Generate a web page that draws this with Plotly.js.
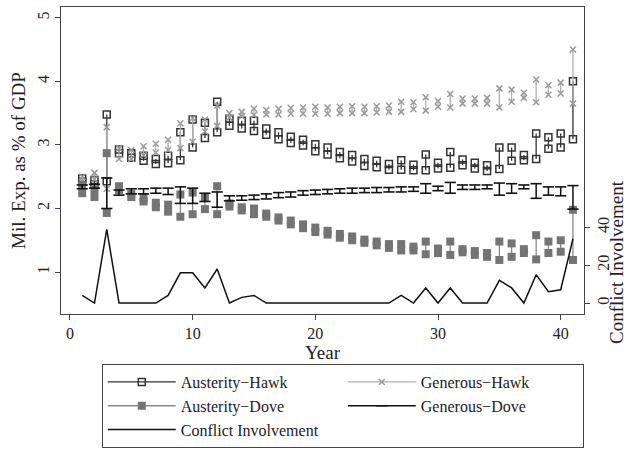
<!DOCTYPE html>
<html>
<head>
<meta charset="utf-8">
<script src="https://cdn.plot.ly/plotly-3.0.1.min.js"></script>
<style>html,body{margin:0;padding:0;background:#fff;}#chart{width:628px;height:450px;}</style>
</head>
<body>
<div id="chart"></div>
<script>
var years = [1,2,3,4,5,6,7,8,9,10,11,12,13,14,15,16,17,18,19,20,21,22,23,24,25,26,27,28,29,30,31,32,33,34,35,36,37,38,39,40,41];

var ahLo = [2.42,2.38,2.43,2.87,2.80,2.75,2.70,2.71,2.76,2.96,3.11,3.20,3.30,3.26,3.22,3.16,3.09,3.03,2.99,2.90,2.85,2.79,2.74,2.67,2.65,2.61,2.61,2.60,2.60,2.63,2.64,2.68,2.63,2.59,2.62,2.75,2.76,2.78,2.94,2.96,3.09];
var ahHi = [2.47,2.45,3.48,2.93,2.87,2.83,2.78,2.83,3.20,3.40,3.35,3.68,3.41,3.38,3.38,3.26,3.20,3.13,3.08,3.01,2.96,2.89,2.84,2.78,2.75,2.70,2.76,2.69,2.85,2.72,2.89,2.77,2.72,2.68,2.96,2.96,2.84,3.18,3.12,3.18,4.00];

var ghLo = [2.42,2.46,2.31,2.78,2.78,2.84,2.88,2.92,2.95,3.05,3.21,3.30,3.43,3.45,3.47,3.48,3.48,3.49,3.49,3.49,3.49,3.50,3.50,3.50,3.51,3.52,3.52,3.56,3.54,3.60,3.59,3.65,3.65,3.65,3.59,3.68,3.74,3.67,3.79,3.81,3.65];
var ghHi = [2.50,2.56,3.28,2.95,2.92,2.98,3.02,3.08,3.34,3.42,3.40,3.62,3.50,3.52,3.57,3.55,3.57,3.58,3.59,3.60,3.59,3.60,3.61,3.60,3.61,3.62,3.68,3.67,3.75,3.69,3.80,3.73,3.73,3.74,3.89,3.87,3.82,4.03,3.94,3.98,4.50];

var adLo = [2.24,2.18,1.93,2.29,2.18,2.11,2.02,1.95,1.87,1.91,1.99,1.91,2.03,1.97,1.91,1.87,1.81,1.75,1.69,1.63,1.59,1.54,1.50,1.46,1.42,1.38,1.34,1.34,1.28,1.30,1.27,1.31,1.27,1.24,1.19,1.24,1.30,1.20,1.30,1.32,1.19];
var adHi = [2.37,2.30,2.87,2.35,2.23,2.17,2.09,2.06,2.22,2.25,2.18,2.35,2.08,2.02,2.00,1.92,1.86,1.81,1.75,1.70,1.65,1.60,1.56,1.51,1.48,1.44,1.44,1.40,1.48,1.37,1.48,1.36,1.33,1.30,1.48,1.45,1.36,1.58,1.48,1.50,1.98];

var gdLo = [2.31,2.32,2.00,2.21,2.23,2.23,2.24,2.22,2.08,2.08,2.11,2.02,2.12,2.13,2.14,2.15,2.17,2.18,2.21,2.22,2.23,2.24,2.24,2.25,2.25,2.26,2.26,2.27,2.24,2.28,2.24,2.30,2.30,2.31,2.21,2.24,2.31,2.16,2.21,2.20,1.99];
var gdHi = [2.37,2.38,2.48,2.29,2.31,2.31,2.32,2.32,2.34,2.32,2.24,2.26,2.20,2.20,2.21,2.23,2.25,2.26,2.28,2.29,2.30,2.31,2.32,2.32,2.33,2.33,2.34,2.34,2.39,2.35,2.41,2.37,2.37,2.37,2.40,2.39,2.37,2.39,2.34,2.34,2.36];

var conflict = [4,0,39,0,0,0,0,4,16,16,8,18,0,3,4,0,0,0,0,0,0,0,0,0,0,0,4,0,8,0,8,0,0,0,12,8,0,15,6,7,34];

var seriesNames = ['Austerity\u2212Hawk','Generous\u2212Hawk','Austerity\u2212Dove','Generous\u2212Dove','Conflict Involvement'];
var xTicks = [0,10,20,30,40];
var yTicks = [1,2,3,4,5];
var y2Ticks = [0,20,40];

function segs(lo, hi) {
  var xs = [], ys = [];
  for (var i = 0; i < years.length; i++) {
    xs.push(years[i], years[i], null);
    ys.push(lo[i], hi[i], null);
  }
  return {x: xs, y: ys};
}

var ah = segs(ahLo, ahHi), gh = segs(ghLo, ghHi), ad = segs(adLo, adHi), gd = segs(gdLo, gdHi);

var traces = [
  {x: ah.x, y: ah.y, name: seriesNames[0], mode: 'lines+markers', connectgaps: false,
   line: {color: '#333333', width: 1.3},
   marker: {symbol: 'square-open', size: 7, color: '#333333', line: {width: 1.5, color: '#333333'}}},
  {x: gh.x, y: gh.y, name: seriesNames[1], mode: 'lines+markers', connectgaps: false,
   line: {color: '#b0b0b0', width: 1.3},
   marker: {symbol: 'x-thin', size: 6, color: '#9a9a9a', line: {width: 1.5, color: '#9a9a9a'}}},
  {x: ad.x, y: ad.y, name: seriesNames[2], mode: 'lines+markers', connectgaps: false,
   line: {color: '#8a8a8a', width: 1.3},
   marker: {symbol: 'square', size: 8, color: '#747474'}},
  {x: gd.x, y: gd.y, name: seriesNames[3], mode: 'lines+markers', connectgaps: false,
   line: {color: '#111111', width: 1.5},
   marker: {symbol: 'line-ew', size: 8, color: '#111111', line: {width: 1.6, color: '#111111'}}},
  {x: years, y: conflict, name: seriesNames[4], mode: 'lines', yaxis: 'y2',
   line: {color: '#111111', width: 1.5}}
];

var font = 'Liberation Serif, Times New Roman, serif';
var layout = {
  width: 628, height: 450,
  margin: {l: 61, r: 44, t: 7, b: 136, autoexpand: false},
  paper_bgcolor: '#ffffff', plot_bgcolor: '#ffffff',
  font: {family: font, size: 15, color: '#222222'},
  showlegend: true,
  xaxis: {
    range: [-0.73, 41.9], tickvals: xTicks, ticktext: xTicks.map(String),
    showgrid: false, zeroline: false, showline: true, linecolor: '#444444', linewidth: 1,
    mirror: true, ticks: 'outside', ticklen: 5, tickcolor: '#444444',
    tickfont: {family: font, size: 16, color: '#222222'},
    title: {text: 'Year', font: {family: font, size: 19, color: '#222222'}, standoff: 3}
  },
  yaxis: {
    range: [0.34, 5.17], tickvals: yTicks, ticktext: yTicks.map(String),
    showgrid: false, zeroline: false, showline: true, linecolor: '#444444', linewidth: 1,
    mirror: true, ticks: 'outside', ticklen: 5, tickcolor: '#444444', tickangle: -90,
    tickfont: {family: font, size: 16, color: '#222222'},
    title: {text: 'Mil. Exp. as % of GDP', font: {family: font, size: 19, color: '#222222'}, standoff: 3}
  },
  yaxis2: {
    overlaying: 'y', side: 'right', range: [-5.8, 156.6],
    tickvals: y2Ticks, ticktext: y2Ticks.map(String),
    showgrid: false, zeroline: false, showline: false,
    ticks: 'outside', ticklen: 5, tickcolor: '#444444', tickangle: -90,
    tickfont: {family: font, size: 16, color: '#222222'}
  },
  annotations: [{
    text: 'Conflict Involvement', xref: 'paper', yref: 'paper', x: 1.061, y: 0.169,
    xanchor: 'center', yanchor: 'middle', textangle: -90, showarrow: false,
    font: {family: font, size: 19, color: '#222222'}
  }],
  legend: {
    orientation: 'h', x: 0.078, y: -0.163, xanchor: 'left', yanchor: 'top',
    bordercolor: '#444444', borderwidth: 1, bgcolor: '#ffffff',
    font: {family: font, size: 16, color: '#222222'},
    entrywidth: 157, entrywidthmode: 'pixels', traceorder: 'normal', itemwidth: 68
  }
};

Plotly.newPlot('chart', traces, layout, {displayModeBar: false, staticPlot: true});
</script>
</body>
</html>
